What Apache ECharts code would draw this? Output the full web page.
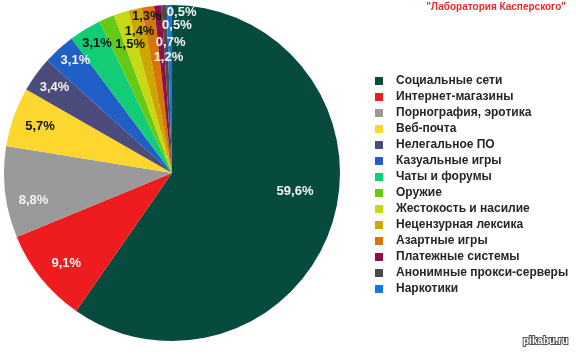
<!DOCTYPE html>
<html lang="ru">
<head>
    <meta charset="UTF-8">
    <title>Лаборатория Касперского</title>
    <script src="https://cdn.jsdelivr.net/npm/echarts@6/dist/echarts.min.js"></script>
    <style>
        * { padding: 0; margin: 0; }
        html, body { width: 576px; height: 354px; background: #fff; }
        #chart { width: 576px; height: 354px; }
    </style>
</head>
<body>
    <div id="chart"></div>
<script>
    // categories and shares (%), clockwise from 12 o'clock
    var categories = [
        'Социальные сети', 'Интернет-магазины', 'Порнография, эротика', 'Веб-почта',
        'Нелегальное ПО', 'Казуальные игры', 'Чаты и форумы', 'Оружие',
        'Жестокость и насилие', 'Нецензурная лексика', 'Азартные игры',
        'Платежные системы', 'Анонимные прокси-серверы', 'Наркотики'
    ];
    var shares = [59.6, 9.1, 8.8, 5.7, 3.4, 3.1, 3.1, 1.5, 1.4, 1.3, 1.2, 0.7, 0.5, 0.5];

    var palette = ['#064b3d', '#ee1c1e', '#9a9a9a', '#fdd62e', '#4b4b7c', '#1f5fc6', '#12cd76',
        '#66c915', '#c8d914', '#cba700', '#d97407', '#8a1248', '#4a4a4a', '#1677e2'];

    // label placement tweaks (px) relative to the default "inside" spot
    var labelNudge = [[40, -8], [-38, 36], [-52, 17], [-50, -17], [-47, -35], [-38, -48], [-30, -55],
        [-8, -48], [-6, -59], [-6, -72], [9, -29], [6, -44], [9, -61], [11, -74]];
    var darkLabels = [3, 6, 7, 8, 9];

    var chart = echarts.init(document.getElementById('chart'));

    var pieData = categories.map(function (name, i) {
        return {
            name: name,
            value: shares[i],
            label: { color: darkLabels.indexOf(i) >= 0 ? '#141414' : '#f4f4f4' }
        };
    });

    var option = {
        animation: false,
        backgroundColor: '#fff',
        color: palette,
        title: {
            text: '"Лаборатория Касперского"',
            right: 5,
            top: -3,
            textStyle: {
                fontFamily: 'Liberation Sans, Arial, sans-serif',
                fontSize: 10,
                fontWeight: 'bold',
                color: '#ea2a2e'
            }
        },
        legend: {
            orient: 'vertical',
            left: 370,
            top: 68,
            itemWidth: 8,
            itemHeight: 8,
            itemGap: 0,
            icon: 'rect',
            selectedMode: false,
            data: categories,
            textStyle: {
                fontFamily: 'Liberation Sans, Arial, sans-serif',
                fontSize: 12,
                fontWeight: 'bold',
                color: '#262626',
                lineHeight: 16,
                padding: [0, 0, 0, 8]
            }
        },
        graphic: [{
            type: 'text',
            right: 7,
            bottom: 7,
            style: {
                text: 'pikabu.ru',
                font: 'bold 10px Liberation Sans, Arial, sans-serif',
                fill: '#fff',
                stroke: '#555',
                lineWidth: 2
            }
        }],
        series: [{
            type: 'pie',
            center: [172, 173],
            radius: 168,
            startAngle: 90,
            clockwise: true,
            avoidLabelOverlap: false,
            label: {
                show: true,
                position: 'inside',
                fontFamily: 'Liberation Sans, Arial, sans-serif',
                fontSize: 13,
                fontWeight: 'bold',
                formatter: function (p) {
                    return p.value.toFixed(1).replace('.', ',') + '%';
                }
            },
            labelLine: { show: false },
            labelLayout: function (params) {
                var n = labelNudge[params.dataIndex];
                return { dx: n[0], dy: n[1] };
            },
            emphasis: { disabled: true },
            data: pieData
        }]
    };
    chart.setOption(option);
</script>
</body>
</html>
